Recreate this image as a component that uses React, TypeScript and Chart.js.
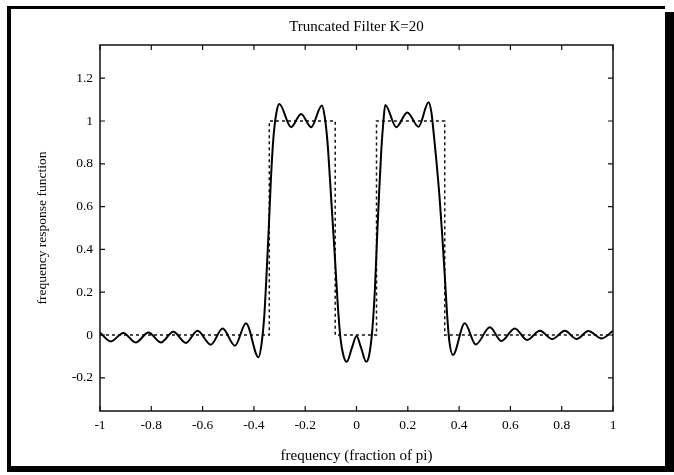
import React, { useEffect, useRef } from 'react';
import { Chart, registerables } from 'chart.js';

Chart.register(...registerables);

const titleText = 'Truncated Filter K=20';
const xAxisTitle = 'frequency (fraction of pi)';
const yAxisTitle = 'frequency response function';

const xTicks = [-1, -0.8, -0.6, -0.4, -0.2, 0, 0.2, 0.4, 0.6, 0.8, 1];
const xTickLabels = ['-1', '-0.8', '-0.6', '-0.4', '-0.2', '0', '0.2', '0.4', '0.6', '0.8', '1'];
const yTicks = [-0.2, 0, 0.2, 0.4, 0.6, 0.8, 1, 1.2];
const yTickLabels = ['-0.2', '0', '0.2', '0.4', '0.6', '0.8', '1', '1.2'];

// Truncated (K=20) frequency response
const truncFreq = [
  -1.0, -0.958, -0.909, -0.861, -0.811, -0.763, -0.714, -0.665, -0.62, -0.568, -0.522, -0.474, -0.431, -0.382,
  -0.37, -0.36, -0.35, -0.342, -0.334, -0.324, -0.312, -0.301,
  -0.255, -0.216, -0.177, -0.135,
  -0.124, -0.113, -0.103, -0.093, -0.084, -0.073, -0.062, -0.05, -0.038,
  -0.018, 0.0, 0.018, 0.038,
  0.05, 0.062, 0.072, 0.08, 0.088, 0.097, 0.105, 0.112,
  0.155, 0.198, 0.242, 0.281,
  0.292, 0.302, 0.311, 0.324, 0.334, 0.344, 0.353, 0.362, 0.376,
  0.422, 0.465, 0.52, 0.565, 0.617, 0.665, 0.715, 0.763, 0.8125, 0.858, 0.904, 0.956, 1.0,
];
const truncResp = [
  0.012, -0.03, 0.01, -0.035, 0.012, -0.035, 0.015, -0.037, 0.02, -0.045, 0.03, -0.05, 0.055, -0.104,
  -0.04, 0.08, 0.3, 0.5, 0.72, 0.92, 1.04, 1.079,
  0.971, 1.033, 0.971, 1.072,
  1.02, 0.9, 0.72, 0.53, 0.36, 0.14, -0.02, -0.1, -0.125,
  -0.06, -0.005, -0.06, -0.125,
  -0.09, 0.03, 0.22, 0.45, 0.66, 0.87, 1.0, 1.075,
  0.971, 1.04, 0.973, 1.087,
  1.04, 0.93, 0.82, 0.64, 0.47, 0.28, 0.1, -0.03, -0.093,
  0.055, -0.044, 0.036, -0.028, 0.031, -0.023, 0.02, -0.019, 0.02, -0.019, 0.019, -0.016, 0.02,
];

// Ideal band-pass response (dotted)
const idealFreq = [-1, -0.34, -0.34, -0.083, -0.083, 0.078, 0.078, 0.344, 0.344, 1];
const idealResp = [0, 0, 1, 1, 0, 0, 1, 1, 0, 0];

const serif = '"Liberation Serif", "Times New Roman", serif';

const framePlugin = {
  id: 'matlabFrame',
  afterDraw(chart: any) {
    const { ctx, chartArea } = chart;
    const { left, right, top, bottom } = chartArea;
    const xs = chart.scales.x;
    const ys = chart.scales.y;
    ctx.save();
    ctx.strokeStyle = '#111';
    ctx.lineWidth = 1.5;
    ctx.strokeRect(left, top, right - left, bottom - top);
    ctx.lineWidth = 1.2;
    const tl = 5;
    ctx.beginPath();
    xTicks.forEach((v) => {
      const px = xs.getPixelForValue(v);
      ctx.moveTo(px, bottom);
      ctx.lineTo(px, bottom - tl);
      ctx.moveTo(px, top);
      ctx.lineTo(px, top + tl);
    });
    yTicks.forEach((v) => {
      const py = ys.getPixelForValue(v);
      ctx.moveTo(left, py);
      ctx.lineTo(left + tl, py);
      ctx.moveTo(right, py);
      ctx.lineTo(right - tl, py);
    });
    ctx.stroke();
    // outer scanned page frame
    ctx.fillStyle = '#000';
    ctx.fillRect(7, 6, 658, 3);
    ctx.fillRect(7, 6, 4, 466);
    ctx.fillRect(7, 466, 667, 6);
    ctx.fillRect(665, 12, 9, 460);
    ctx.restore();
  },
};

export default function App() {
  const ref = useRef<HTMLCanvasElement>(null);
  useEffect(() => {
    const canvas = ref.current;
    if (!canvas) return;
    const chart = new Chart(canvas, {
      type: 'line',
      data: {
        datasets: [
          {
            label: 'truncated',
            data: truncFreq.map((f, i) => ({ x: f, y: truncResp[i] })),
            borderColor: '#000',
            borderWidth: 2,
            pointRadius: 0,
            cubicInterpolationMode: 'monotone',
            fill: false,
          },
          {
            label: 'ideal',
            data: idealFreq.map((f, i) => ({ x: f, y: idealResp[i] })),
            borderColor: '#111',
            borderWidth: 1.5,
            borderDash: [3, 3],
            pointRadius: 0,
            tension: 0,
            fill: false,
          },
        ],
      },
      options: {
        animation: false,
        responsive: false,
        devicePixelRatio: 1,
        layout: { padding: { top: 6, left: 10, right: 61, bottom: 4 } },
        plugins: {
          legend: { display: false },
          tooltip: { enabled: false },
          title: {
            display: true,
            text: titleText,
            fullSize: false,
            color: '#000',
            font: { family: serif, size: 15, weight: 'normal' },
            padding: { top: 12, bottom: 9 },
          },
        },
        scales: {
          x: {
            type: 'linear',
            min: -1,
            max: 1,
            afterBuildTicks: (s: any) => {
              s.ticks = xTicks.map((v) => ({ value: v }));
            },
            afterFit: (s: any) => {
              s.height = 60;
            },
            grid: { display: false, drawTicks: false },
            border: { display: false },
            ticks: {
              padding: 6,
              color: '#000',
              autoSkip: false,
              maxRotation: 0,
              font: { family: serif, size: 13.5 },
              callback: (v: any) => xTickLabels[xTicks.indexOf(Number(v))] ?? '',
            },
            title: {
              display: true,
              text: xAxisTitle,
              color: '#000',
              font: { family: serif, size: 15 },
              padding: { top: 0, bottom: 5.5 },
            },
          },
          y: {
            type: 'linear',
            min: -0.355,
            max: 1.355,
            afterBuildTicks: (s: any) => {
              s.ticks = yTicks.map((v) => ({ value: v }));
            },
            afterFit: (s: any) => {
              s.width = 90;
            },
            grid: { display: false, drawTicks: false },
            border: { display: false },
            ticks: {
              padding: 7,
              color: '#000',
              autoSkip: false,
              font: { family: serif, size: 13.5 },
              callback: (v: any) => yTickLabels[yTicks.indexOf(Number(v))] ?? '',
            },
            title: {
              display: true,
              text: yAxisTitle,
              color: '#000',
              font: { family: serif, size: 13.5 },
              padding: { top: 24, bottom: 0 },
            },
          },
        },
      },
      plugins: [framePlugin],
    } as any);
    return () => chart.destroy();
  }, []);
  return (
    <div style={{ position: 'fixed', left: 0, top: 0, width: 674, height: 475, background: '#fff' }}>
      <canvas ref={ref} width={674} height={475} style={{ display: 'block', width: 674, height: 475 }} />
    </div>
  );
}
